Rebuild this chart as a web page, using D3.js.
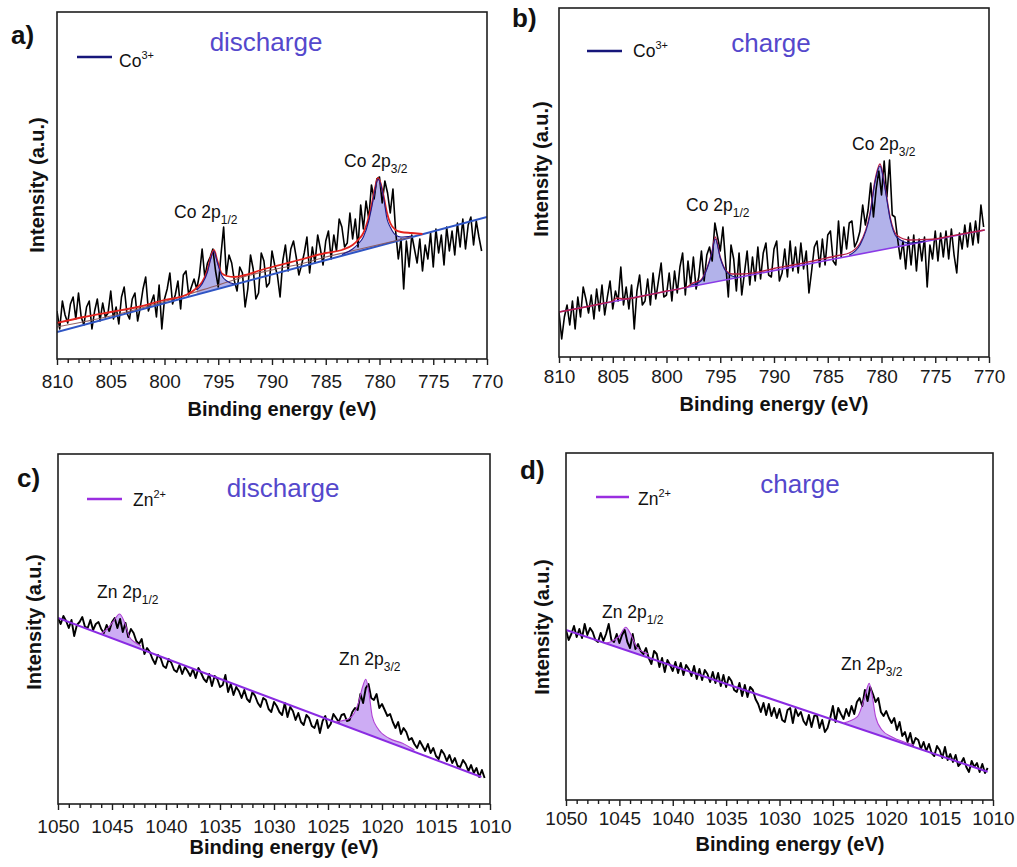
<!DOCTYPE html>
<html lang="en">
<head>
<meta charset="utf-8" />
<title>XPS Co 2p and Zn 2p, discharge / charge</title>
<script src="https://d3js.org/d3.v7.min.js"></script>
<style>
  body { margin: 0; background: #fff; }
  text { font-family: 'Liberation Sans', Arial, sans-serif; }
</style>
</head>
<body>
<script>
const W = 1017, H = 867;

// energy grid of the measured spectra (eV), high to low
const coStart = 810, znStart = 1050, eStep = 0.25;

// tick labels
const coTicks = [810, 805, 800, 795, 790, 785, 780, 775, 770];
const znTicks = [1050, 1045, 1040, 1035, 1030, 1025, 1020, 1015, 1010];

// measured intensity (a.u.), one value per 0.25 eV step
const coDischarge = [
  48,30,58,44,36,55,62,40, 66,42,34,52,58,30,48,60, 38,56,42,46,68,40,52,35,
  62,72,46,40,60,66,38,52, 70,82,48,56,64,42,74,30, 60,70,86,55,64,78,50,84,
  88,64,72,80,70,84,110,82, 96,102,110,88,72,104,132,84, 104,96,78,68,92,86,52,70,
  104,90,60,66,106,98,72,76, 108,94,84,62,98,114,88,110, 118,102,84,94,106,122,86,112,
  96,124,110,94,118,128,100,124, 108,140,132,112,116,146,120,140, 112,154,130,158,140,174,160,180,
  182,156,178,166,146,170,128,100, 120,70,118,92,124,110,96,120, 88,114,100,126,92,130,106,124,
  94,132,108,128,104,136,112,140, 110,134,142,114,138,122,108
];
const coCharge = [
  45,18,40,52,32,56,28,60, 40,70,58,44,62,38,68,46, 72,42,60,76,48,66,56,90,
  52,70,48,72,28,66,82,52, 56,78,52,84,58,76,94,60, 62,84,56,86,64,90,104,62,
  96,72,100,68,80,106,76,102, 110,96,134,120,106,130,94,60, 112,98,66,104,62,84,106,72,
  100,76,110,78,104,114,82,80, 108,116,76,84,108,80,116,86, 110,84,114,88,106,64,86,110,
  116,90,118,92,122,126,96,92, 136,100,130,108,134,136,110,116, 126,152,132,147,174,140,168,186,
  162,196,160,197,142,140,118,98, 116,88,120,92,122,86,118,96, 120,70,112,98,126,96,124,100,
  126,98,128,102,84,124,108,132, 110,134,112,136,114,152,130
];
const znDischarge = [
  186,180,188,183,176,184,168,179, 182,187,177,176,184,174,180,182, 175,171,179,173,182,186,176,185,
  172,181,167,175,171,163,160,165, 150,156,152,145,140,149,146,138, 136,145,141,134,132,139,130,137,
  133,128,135,126,136,131,125,122, 130,118,128,125,117,119,129,112, 120,109,117,113,106,114,105,102,
  112,108,101,97,106,104,95,92, 102,98,92,89,101,87,97,93, 84,91,82,79,89,86,78,76,
  84,71,83,88,76,80,90,86, 82,89,90,83,84,92,96,94, 110,101,116,120,106,104,110,96,
  100,94,88,90,82,76,82,70, 76,72,64,66,60,56,63,58, 53,60,51,56,48,45,54,50,
  43,49,41,46,38,37,44,40, 33,39,31,36,27,34,26
];
const znCharge = [
  170,160,166,174,163,171,162,176, 165,172,168,160,158,167,159,166, 176,160,158,166,157,165,170,158,
  152,166,151,156,149,146,152,142, 136,149,146,133,142,128,140,135, 129,138,127,137,125,135,131,124,
  134,121,131,120,130,126,118,128, 117,127,114,125,113,123,119,110, 108,117,104,115,103,113,110,101,
  96,88,97,85,96,84,92,82, 91,80,78,90,92,77,91,84, 88,79,75,85,73,84,85,72,
  80,68,72,82,94,78,92,86, 81,91,84,94,86,98,102,94, 110,99,113,106,98,102,88,84,
  89,82,77,82,70,78,64,68, 58,67,55,62,60,51,58,49, 56,47,44,54,50,42,53,40,
  46,38,45,34,37,42,33,28, 39,33,37,28,36,27,32
];

// fitted backgrounds [eV, a.u.]
const bgCoDischarge = [[810, 27], [770, 142]];
const bgCoCharge = [[810, 45], [770.4, 127]];
const bgZnDischarge = [[1050, 186], [1010.8, 27]];
const bgZnCharge = [[1050, 170], [1010.5, 28.2]];

// second background of panel a
const shirleyCoDischarge = [[810,32],[805,43],[800,57.5],[795,74],[792,84],[790,89],[787,96],[785,102],[783,107],[781,112],[779,117],[777,122]];

// fit envelopes [eV, a.u.]
const envCoDischarge = [[810,36],[807.5,42],[805,47],[802.5,52],[800,59],[798,64],[797,71],[796.5,77],[796,89],[795.7,102],[795.4,109],[795.1,99],[794.7,86],[794.2,83],[793.5,82],[792.5,84],[791,89],[790,92],[787.5,99],[785,106],[783.5,109],[782.5,114],[782,119],[781.5,126],[781,142],[780.7,156],[780.4,172],[780.15,181],[779.9,176],[779.6,162],[779.3,146],[779,136],[778.5,129],[778,127],[777,126],[776,125]];
const envCoCharge = [[810,45],[806,53.5],[805,56],[804.6,59],[804,58],[802,61.5],[800,66],[798,70.5],[797.7,73],[796.8,77],[796.2,90],[795.8,104],[795.46,120],[795,100],[794.5,87],[793.9,83],[793,83],[791,86],[790,88.5],[788,92.5],[786,97],[784,101.5],[783,104],[782,113.7],[781.07,144],[780.6,177],[780.14,193],[779.67,170],[779.2,140],[778.6,122],[777.4,117],[776,117.5],[775,118],[774,120],[772,124],[770.4,127]];

// fitted components [eV, a.u.]
const co12Discharge = [[797,69],[796.5,75],[796,87],[795.7,100],[795.4,108],[795.1,97],[794.7,84],[794.2,78],[793.5,75]];
const co32Discharge = [[783.5,104.5],[782.5,110],[782,115],[781.5,122],[781,138],[780.7,153],[780.4,170],[780.15,180],[779.9,175],[779.6,160],[779.3,140],[779,132],[778.5,124],[778,122],[777,123]];
const co12Charge = [[797.7,72],[796.8,76],[796.2,89],[795.8,103],[795.46,118],[795,99],[794.5,86],[793.9,81],[793.4,79.5]];
const co32Charge = [[783,102],[782,112],[781.07,142],[780.6,175],[780.14,191],[779.67,168],[779.2,138],[778.6,120],[777.4,114],[776,116]];
const zn12Discharge = [[1046,170.5],[1045.55,174],[1044.9,182.3],[1044.3,190],[1043.8,180.7],[1043.4,167.3],[1042.75,160.7],[1042.3,158]];
const zn32Discharge = [[1024.3,82],[1023,85.7],[1022.2,100.7],[1021.8,117],[1021.5,124.7],[1021.2,110.7],[1020.9,87.3],[1020.4,75.7],[1019.35,65.7],[1018.1,60.7],[1017,54]];
const zn12Charge = [[1046.3,157],[1045.8,158.3],[1045,164],[1044.4,172.7],[1043.9,165],[1043.4,153.3],[1042.8,148.3],[1042.3,146]];
const zn32Charge = [[1024,77],[1022.7,83.3],[1022.1,100],[1021.8,111.7],[1021.6,116.7],[1021.3,103.3],[1021,83.3],[1020.4,70],[1019.5,63.3],[1018.4,58.3],[1017.4,55]];

const CO_LINE = '#16167a', ZN_LINE = '#9a2ee0', STATE = '#5548cc';

const panels = [
  { label: 'a)', lx: 11, ly: 44, l: 57, t: 12, r: 487, b: 359, yMax: 347,
    xDomain: [810, 770], ticks: coTicks, pad: 10, data: coDischarge, start: coStart, dataWidth: 1.6,
    bg: bgCoDischarge, bgColor: '#2f55c4', bgWidth: 2,
    shirley: shirleyCoDischarge, env: envCoDischarge, envColor: '#e3231e', envWidth: 1.8,
    comps: [co12Discharge, co32Discharge], fill: '#a4a4e6', stroke: '#1b1b8a',
    state: 'discharge', sx: 266, sy: 51,
    leg: { x1: 77, x2: 112, y: 57, tx: 119, ty: 67, main: 'Co', sup: '3+', color: CO_LINE },
    peaks: [{ x: 174, y: 218, main: 'Co 2p', sub: '1/2' }, { x: 344, y: 167, main: 'Co 2p', sub: '3/2' }],
    tx: 282, ty: 416, yx: 44, yy: 185 },
  { label: 'b)', lx: 512, ly: 27, l: 559, t: 8, r: 989, b: 357, yMax: 349,
    xDomain: [810, 770], ticks: coTicks, pad: 7, data: coCharge, start: coStart, dataWidth: 1.6,
    bg: bgCoCharge, bgColor: '#8a3ae6', bgWidth: 1.6,
    env: envCoCharge, envColor: '#b51e44', envWidth: 1.3,
    comps: [co12Charge, co32Charge], fill: '#a4a4e6', stroke: '#1b1b8a',
    state: 'charge', sx: 771, sy: 52,
    leg: { x1: 587, x2: 622, y: 51, tx: 633, ty: 57, main: 'Co', sup: '3+', color: CO_LINE },
    peaks: [{ x: 686, y: 211, main: 'Co 2p', sub: '1/2' }, { x: 852, y: 150, main: 'Co 2p', sub: '3/2' }],
    tx: 774, ty: 411, yx: 548, yy: 169 },
  { label: 'c)', lx: 17, ly: 487, l: 58, t: 454, r: 490, b: 804, yMax: 350,
    xDomain: [1050, 1010], ticks: znTicks, pad: 10, data: znDischarge, start: znStart, dataWidth: 1.9,
    bg: bgZnDischarge, bgColor: '#8a2be2', bgWidth: 2,
    comps: [zn12Discharge, zn32Discharge], fill: '#c49ef2', stroke: '#b040d4',
    state: 'discharge', sx: 283, sy: 497,
    leg: { x1: 87, x2: 122, y: 499, tx: 133, ty: 506, main: 'Zn', sup: '2+', color: ZN_LINE },
    peaks: [{ x: 97, y: 598, main: 'Zn 2p', sub: '1/2' }, { x: 339, y: 665, main: 'Zn 2p', sub: '3/2' }],
    tx: 284, ty: 854, yx: 41, yy: 622 },
  { label: 'd)', lx: 520, ly: 479, l: 566, t: 453, r: 993, b: 800, yMax: 347,
    xDomain: [1050, 1010], ticks: znTicks, pad: 6, data: znCharge, start: znStart, dataWidth: 1.9,
    bg: bgZnCharge, bgColor: '#8a2be2', bgWidth: 2,
    comps: [zn12Charge, zn32Charge], fill: '#c49ef2', stroke: '#b040d4',
    state: 'charge', sx: 800, sy: 493,
    leg: { x1: 596, x2: 629, y: 497, tx: 638, ty: 505, main: 'Zn', sup: '2+', color: ZN_LINE },
    peaks: [{ x: 602, y: 618, main: 'Zn 2p', sub: '1/2' }, { x: 841, y: 670, main: 'Zn 2p', sub: '3/2' }],
    tx: 790, ty: 851, yx: 549, yy: 627 }
];

const svg = d3.select('body').append('svg').attr('width', W).attr('height', H);

panels.forEach((p, k) => {
  const g = svg.append('g');
  const x = d3.scaleLinear().domain(p.xDomain).range([p.l, p.r]);
  const y = d3.scaleLinear().domain([0, p.yMax]).range([p.b, p.t]);
  const bgAt = d3.scaleLinear().domain(p.bg.map(d => d[0])).range(p.bg.map(d => d[1]));

  g.append('clipPath').attr('id', 'clip' + k)
    .append('rect').attr('x', p.l).attr('y', p.t).attr('width', p.r - p.l).attr('height', p.b - p.t);
  const plot = g.append('g').attr('clip-path', `url(#clip${k})`);

  // fitted components, filled down to the background
  const area = d3.area().x(d => x(d[0])).y0(d => y(bgAt(d[0]))).y1(d => y(d[1])).curve(d3.curveMonotoneX);
  p.comps.forEach(c => {
    plot.append('path').attr('d', area(c)).attr('fill', p.fill).attr('opacity', 0.85);
  });

  // measured spectrum
  const pts = p.data.map((v, i) => [p.start - i * eStep, v]);
  plot.append('path').datum(pts)
    .attr('d', d3.line().x(d => x(d[0])).y(d => y(d[1])))
    .attr('fill', 'none').attr('stroke', '#000').attr('stroke-width', p.dataWidth).attr('stroke-linejoin', 'round');

  const smooth = d3.line().x(d => x(d[0])).y(d => y(d[1])).curve(d3.curveMonotoneX);
  plot.append('path').attr('d', smooth(p.bg))
    .attr('fill', 'none').attr('stroke', p.bgColor).attr('stroke-width', p.bgWidth);
  if (p.shirley) {
    plot.append('path').attr('d', smooth(p.shirley))
      .attr('fill', 'none').attr('stroke', '#8c5656').attr('stroke-width', 1.2).attr('opacity', 0.9);
  }
  if (p.env) {
    plot.append('path').attr('d', smooth(p.env))
      .attr('fill', 'none').attr('stroke', p.envColor).attr('stroke-width', p.envWidth);
  }
  p.comps.forEach(c => {
    plot.append('path').attr('d', smooth(c))
      .attr('fill', 'none').attr('stroke', p.stroke).attr('stroke-width', 1.1);
  });

  // frame
  g.append('rect').attr('x', p.l).attr('y', p.t).attr('width', p.r - p.l).attr('height', p.b - p.t)
    .attr('fill', 'none').attr('stroke', '#1e1e1e').attr('stroke-width', 1.6);

  // x axis: minor ticks every 1 eV, labelled ticks every 5 eV
  const lo = d3.min(p.xDomain), hi = d3.max(p.xDomain);
  const minor = d3.range(lo, hi + 1, 1).filter(v => !p.ticks.includes(v));
  const minorAxis = g.append('g').attr('transform', `translate(0,${p.b})`)
    .call(d3.axisBottom(x).tickValues(minor).tickSize(4).tickFormat(''));
  const majorAxis = g.append('g').attr('transform', `translate(0,${p.b})`)
    .call(d3.axisBottom(x).tickValues(p.ticks).tickSize(6).tickPadding(p.pad).tickFormat(d3.format('d')));
  [minorAxis, majorAxis].forEach(a => {
    a.select('.domain').remove();
    a.selectAll('line').attr('stroke', '#1e1e1e').attr('stroke-width', 1.4);
  });
  majorAxis.selectAll('text')
    .attr('font-family', "'Liberation Sans', Arial, sans-serif")
    .attr('font-size', 19).attr('fill', '#1a1a1a');

  g.append('text').attr('x', p.tx).attr('y', p.ty).attr('text-anchor', 'middle')
    .attr('font-size', 20).attr('font-weight', 'bold').attr('fill', '#111')
    .text('Binding energy (eV)');
  g.append('text').attr('transform', `translate(${p.yx},${p.yy}) rotate(-90)`).attr('text-anchor', 'middle')
    .attr('font-size', 20).attr('font-weight', 'bold').attr('fill', '#111')
    .text('Intensity (a.u.)');

  // panel letter and state
  g.append('text').attr('x', p.lx).attr('y', p.ly)
    .attr('font-size', 26).attr('font-weight', 'bold').attr('fill', '#111').text(p.label);
  g.append('text').attr('x', p.sx).attr('y', p.sy).attr('text-anchor', 'middle')
    .attr('font-size', 26).attr('fill', STATE).text(p.state);

  // legend
  g.append('line').attr('x1', p.leg.x1).attr('x2', p.leg.x2).attr('y1', p.leg.y).attr('y2', p.leg.y)
    .attr('stroke', p.leg.color).attr('stroke-width', 2.6);
  const lt = g.append('text').attr('x', p.leg.tx).attr('y', p.leg.ty)
    .attr('font-size', 17.5).attr('fill', '#111');
  lt.append('tspan').text(p.leg.main);
  lt.append('tspan').attr('dy', -8).attr('font-size', 11).text(p.leg.sup);

  // peak names
  p.peaks.forEach(pk => {
    const t = g.append('text').attr('x', pk.x).attr('y', pk.y)
      .attr('font-size', 17.5).attr('fill', '#111');
    t.append('tspan').text(pk.main);
    t.append('tspan').attr('dy', 6).attr('font-size', 12).text(pk.sub);
  });
});
</script>
</body>
</html>
